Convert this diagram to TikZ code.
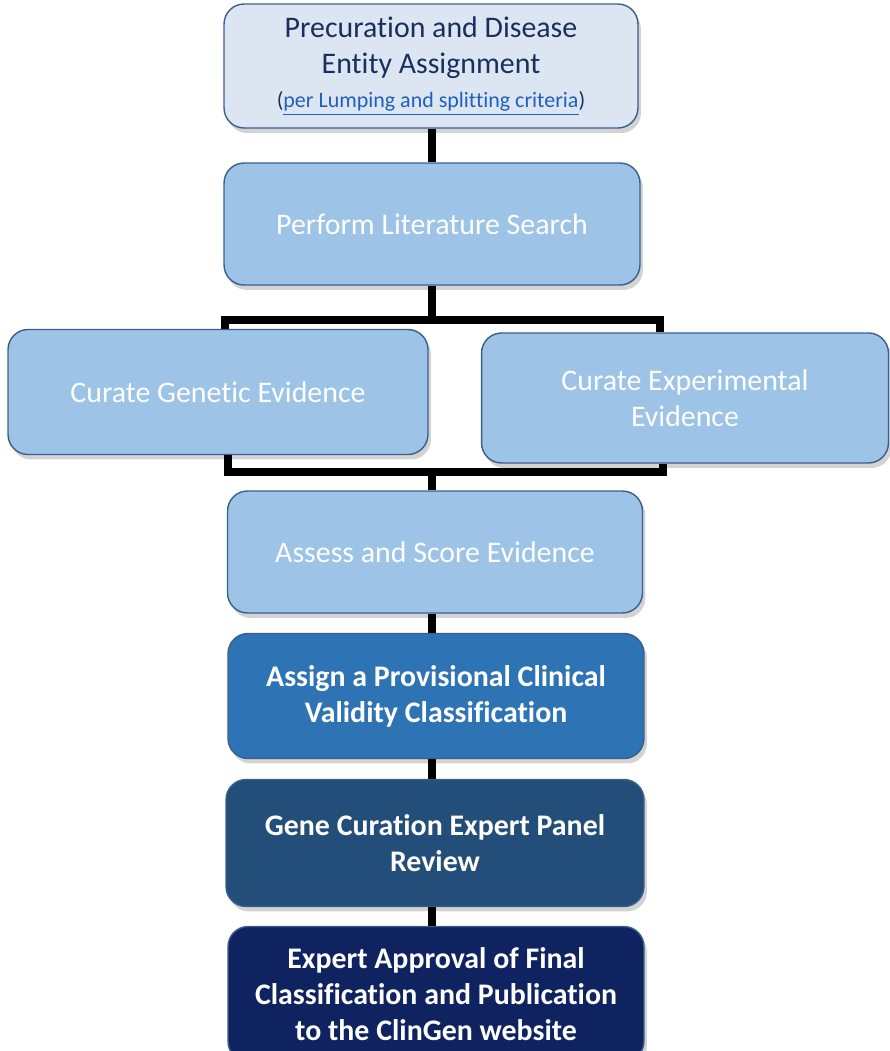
\documentclass[tikz,border=0pt]{standalone}
\usepackage{fontspec}
\setmainfont{Carlito}[Ligatures=NoCommon]
\usepackage{tikz}
\usetikzlibrary{shapes}
\usetikzlibrary{shadows}

\definecolor{paleblue}{HTML}{DCE6F2}
\definecolor{midblue}{HTML}{9DC3E6}
\definecolor{strongblue}{HTML}{2E74B5}
\definecolor{deepblue}{HTML}{234E79}
\definecolor{nightblue}{HTML}{0F2360}
\definecolor{edgeblue}{HTML}{3A5F8C}
\definecolor{navytext}{HTML}{1B2F5E}
\definecolor{linkblue}{HTML}{1F5FBF}

\begin{document}
\begin{tikzpicture}[x=0.02cm,y=-0.02cm]
        \useasboundingbox (0,0) rectangle (889,1051);
        \tikzstyle{stepbox} = [draw=edgeblue, line width=0.8pt, rounded corners=0.4cm, align=center, inner sep=2pt,
                font=\fontsize{17}{20.5}\selectfont,
                drop shadow={opacity=0.35, shadow xshift=0.06cm, shadow yshift=-0.1cm}]
        \tikzstyle{link} = [line width=4.5pt, black, line join=miter]
        % boxes
        \node[stepbox, fill=paleblue, text=navytext, minimum width=8.28cm, minimum height=2.48cm] (precur) at (431,66)
                {Precuration and Disease\\Entity Assignment\\[-1pt]
                 {\fontsize{12.5}{14}\selectfont (\textcolor{linkblue}{\underline{per Lumping and splitting criteria}})}};
        \node[stepbox, fill=midblue, text=white, minimum width=8.32cm, minimum height=2.44cm] (search) at (432,224)
                {Perform Literature Search};
        \node[stepbox, fill=midblue, text=white, minimum width=8.4cm, minimum height=2.5cm] (genetic) at (218,392)
                {Curate Genetic Evidence};
        \node[stepbox, fill=midblue, text=white, minimum width=8.14cm, minimum height=2.6cm] (experim) at (685,398)
                {Curate Experimental\\Evidence};
        \node[stepbox, fill=midblue, text=white, minimum width=8.3cm, minimum height=2.44cm] (assess) at (435,552)
                {Assess and Score Evidence};
        \node[stepbox, fill=strongblue, text=white, minimum width=8.32cm, minimum height=2.5cm, font=\fontsize{17}{20.5}\selectfont\bfseries] (assign) at (436,696)
                {Assign a Provisional Clinical\\Validity Classification};
        \node[stepbox, fill=deepblue, text=white, minimum width=8.36cm, minimum height=2.54cm, font=\fontsize{17}{20.5}\selectfont\bfseries] (panel) at (435,843)
                {Gene Curation Expert Panel\\Review};
        \node[stepbox, fill=nightblue, text=white, minimum width=8.32cm, minimum height=2.7cm, font=\fontsize{17}{20.5}\selectfont\bfseries] (approve) at (436,994)
                {Expert Approval of Final\\Classification and Publication\\to the ClinGen website};
        % connectors
        \coordinate (splitL) at (225,320);
        \coordinate (splitR) at (660,320);
        \coordinate (joinL) at (228,472);
        \coordinate (joinR) at (663,472);
        \coordinate (trunk) at (432,0);
        \draw[link] (trunk |- precur.south) -- (trunk |- search.north);
        \draw[link] (trunk |- search.south) -- (trunk |- splitL);
        \draw[link] (splitL |- genetic.north) -- (splitL) -- (splitR) -- (splitR |- experim.north);
        \draw[link] (joinL |- genetic.south) -- (joinL) -- (joinR) -- (joinR |- experim.south);
        \draw[link] (trunk |- joinL) -- (trunk |- assess.north);
        \draw[link] (trunk |- assess.south) -- (trunk |- assign.north);
        \draw[link] (trunk |- assign.south) -- (trunk |- panel.north);
        \draw[link] (trunk |- panel.south) -- (trunk |- approve.north);
\end{tikzpicture}
\end{document}
